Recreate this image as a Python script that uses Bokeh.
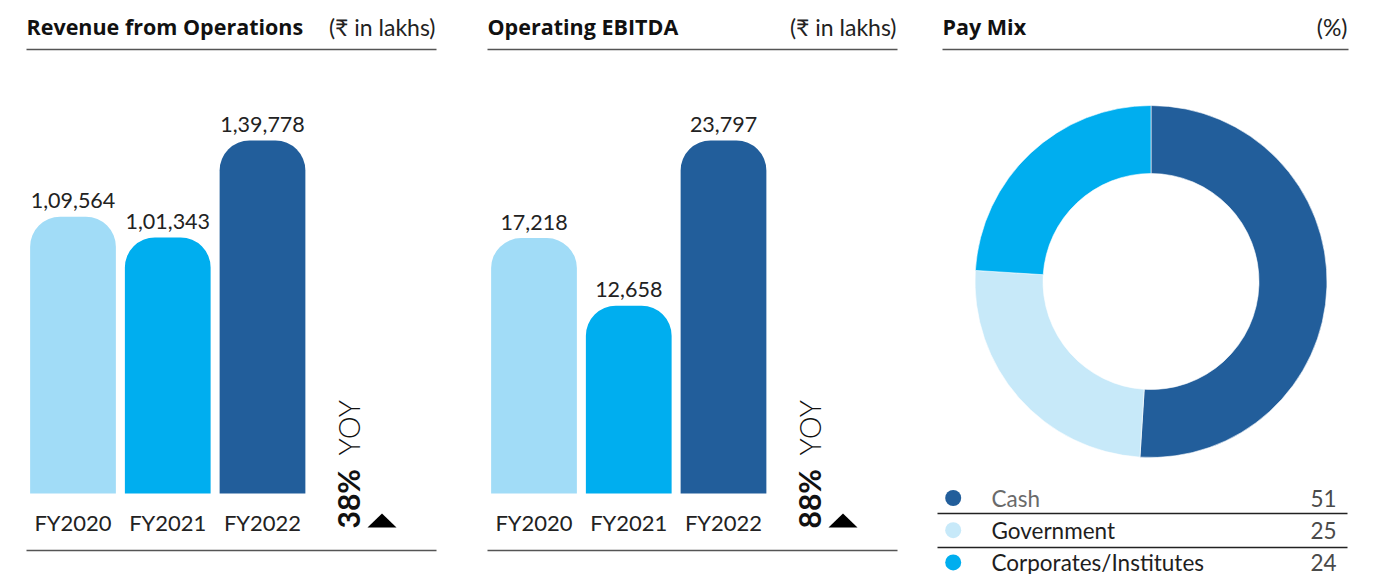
import math
from bokeh.plotting import figure
from bokeh.layouts import row
from bokeh.models import Range1d, Label, PolyAnnotation, ColumnDataSource
from bokeh.core.properties import value
from bokeh.embed import file_html
from bokeh.resources import INLINE

# ---------------- data ----------------
years = ["FY2020", "FY2021", "FY2022"]
revenue = [109564, 101343, 139778]
ebitda = [17218, 12658, 23797]
revenue_yoy = 38
ebitda_yoy = 88
pay_mix_labels = ["Cash", "Government", "Corporates/Institutes"]
pay_mix_values = [51, 25, 24]

# ---------------- style ----------------
bar_colors = ["#a1dcf7", "#00aeef", "#225e9b"]
mix_colors = ["#225e9b", "#c7e9f9", "#00aeef"]
mix_text_colors = ["#6a6a6a", "#1e1e1e", "#1e1e1e"]
FONT = "Lato"
HEAD_FONT = "Open Sans"
LIGHT = "Lato Light, Lato"
H = 574
TOP = 0
RULE = "#555555"


def indian(n):
    s = str(int(n))
    if len(s) <= 3:
        return s
    head, tail = s[:-3], s[-3:]
    parts = []
    while len(head) > 2:
        parts.insert(0, head[-2:])
        head = head[:-2]
    if head:
        parts.insert(0, head)
    return ",".join(parts + [tail])


def base_fig(w, xr, yr):
    p = figure(width=w, height=H, x_range=xr, y_range=yr, output_backend="svg",
               toolbar_location=None, min_border=0, outline_line_color=None,
               background_fill_color="white", border_fill_color="white")
    p.axis.visible = False
    p.grid.visible = False
    return p


def header(p, X, Y, x_left, x_right, title, unit):
    p.add_layout(Label(x=X(x_left), y=Y(26), text=title, text_font=HEAD_FONT,
                       text_font_style="bold", text_font_size="21.5px",
                       text_color="#111111", text_baseline="middle"))
    p.add_layout(Label(x=X(x_right - 1), y=Y(26), text=unit, text_font=FONT,
                       text_font_size="23px", text_color="#222222",
                       text_align="right", text_baseline="middle"))
    p.segment(x0=X(x_left), y0=Y(49), x1=X(x_right), y1=Y(49), line_color=RULE, line_width=1.5)


def bar_panel(title, unit, vals, yoy, dx, left_px, right_px):
    step = 94.75
    c0 = 72.5 + dx
    base = 493.0
    k = max(vals) / 353.0
    X = lambda px: (px - c0) / step
    Y = lambda py: (base - py) * k
    p = base_fig(int(right_px - left_px), Range1d(X(left_px), X(right_px)),
                 Range1d(Y(TOP + H), Y(TOP)))
    src = ColumnDataSource(dict(x=list(range(len(vals))), top=vals, color=bar_colors,
                                label=[indian(v) for v in vals], cat=years))
    p.vbar(x="x", top="top", bottom=0, width=0.905, fill_color="color", line_color=None,
           source=src, border_radius=(30, 30, 0, 0))
    p.text(x="x", y="top", text="label", source=src, y_offset=-16, text_align="center",
           text_baseline="middle", text_font=value(FONT), text_font_size="21.5px",
           text_color="#222222")
    p.text(x="x", y=Y(521.5), text="cat", source=src, text_align="center",
           text_baseline="middle", text_font=value(FONT), text_font_size="22px",
           text_color="#222222")
    header(p, X, Y, 26 + dx, 436 + dx, title, unit)
    p.segment(x0=X(26 + dx), y0=Y(550), x1=X(436 + dx), y1=Y(550), line_color=RULE, line_width=1.5)
    # YOY annotation
    p.add_layout(Label(x=X(347 + dx), y=Y(528), text=f"{yoy}%", angle=math.pi / 2,
                       text_font=FONT, text_font_style="bold", text_font_size="30px",
                       text_color="#111111", text_baseline="middle", text_align="left"))
    p.add_layout(Label(x=X(347.5 + dx), y=Y(455), text="YOY", angle=math.pi / 2,
                       text_font=LIGHT, text_font_size="29px",
                       text_color="#111111", text_baseline="middle", text_align="left"))
    p.add_layout(PolyAnnotation(xs=[X(367 + dx), X(396 + dx), X(381.5 + dx)],
                                ys=[Y(527), Y(527), Y(513)], fill_color="black",
                                fill_alpha=1.0, line_color=None))
    return p


p1 = bar_panel("Revenue from Operations", "(\u20b9 in lakhs)", revenue, revenue_yoy, 0, 0, 469)
p2 = bar_panel("Operating EBITDA", "(\u20b9 in lakhs)", ebitda, ebitda_yoy, 461, 469, 920)

# ---------------- donut ----------------
cx, cy = 1150.5, 281.0
X3 = lambda px: px - cx
Y3 = lambda py: cy - py
p3 = base_fig(469, Range1d(X3(920), X3(1389)), Range1d(Y3(TOP + H), Y3(TOP)))

total = float(sum(pay_mix_values))
cum = [0.0]
for v in pay_mix_values:
    cum.append(cum[-1] + v / total)
starts = [math.pi / 2 - 2 * math.pi * c for c in cum[:-1]]
ends = [math.pi / 2 - 2 * math.pi * c for c in cum[1:]]
wsrc = ColumnDataSource(dict(start=starts, end=ends, color=mix_colors))
p3.annular_wedge(x=0, y=0, inner_radius=108, outer_radius=176, start_angle="start",
                 end_angle="end", direction="clock", fill_color="color",
                 line_color="white", line_width=0.6, source=wsrc)

rows_py = [497.5 + 32.2 * i for i in range(len(pay_mix_labels))]
lsrc = ColumnDataSource(dict(y=[Y3(v) for v in rows_py],
                             label=pay_mix_labels,
                             val=[str(v) for v in pay_mix_values],
                             color=mix_colors, tcolor=mix_text_colors))
p3.scatter(x=X3(952.7), y="y", size=16, fill_color="color", line_color=None, source=lsrc)
p3.text(x=X3(991), y="y", text="label", source=lsrc, text_baseline="middle",
        text_font=value(FONT), text_font_size="22.5px", text_color="tcolor")
p3.text(x=X3(1336), y="y", text="val", source=lsrc, text_baseline="middle",
        text_align="right", text_font=value(FONT), text_font_size="22.5px", text_color="#4a4a4a")
for py in (513, 547):
    p3.segment(x0=X3(937), y0=Y3(py), x1=X3(1347), y1=Y3(py), line_color="#222222", line_width=1.5)

header(p3, X3, Y3, 942, 1348, "Pay Mix", "(%)")

layout = row(p1, p2, p3, spacing=0)
open("out.html", "w").write(file_html(layout, INLINE))
